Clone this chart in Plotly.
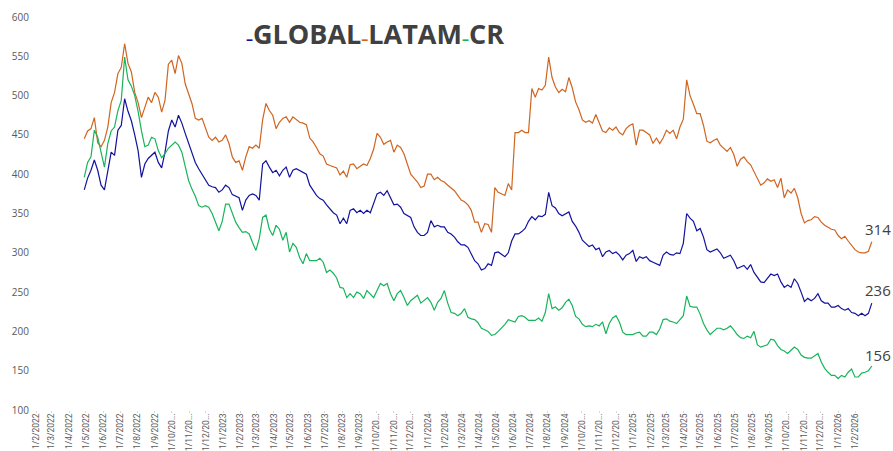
import pandas as pd
import plotly.graph_objects as go

# ---- data (one value every 6 days) ----
start_date = "2022-04-28"
step = "6D"

global_vals = [
    380, 395, 405, 418, 405, 386, 380, 405, 428, 424,
    456, 462, 496, 480, 468, 450, 430, 396, 413, 420,
    424, 428, 415, 408, 428, 455, 469, 460, 475, 465,
    452, 440, 426, 415, 407, 400, 392, 386, 384, 383,
    377, 380, 386, 383, 374, 372, 370, 354, 367, 373,
    375, 373, 367, 413, 417, 409, 402, 405, 398, 405,
    409, 396, 405, 407, 405, 402, 400, 386, 379, 373,
    369, 367, 361, 356, 351, 348, 337, 344, 337, 354,
    356, 351, 354, 350, 354, 351, 362, 375, 377, 373,
    379, 371, 361, 362, 358, 350, 348, 345, 333, 326,
    322, 322, 326, 341, 333, 335, 333, 333, 326, 324,
    320, 314, 310, 310, 307, 299, 290, 286, 278, 280,
    286, 284, 300, 301, 298, 295, 300, 315, 324, 324,
    327, 331, 340, 346, 342, 347, 346, 349, 377, 360,
    357, 350, 347, 350, 352, 340, 334, 326, 316, 312,
    308, 310, 304, 306, 295, 301, 303, 299, 301, 297,
    291, 297, 299, 303, 289, 295, 293, 295, 290, 288,
    286, 284, 297, 301, 298, 297, 300, 299, 312, 350,
    344, 340, 328, 331, 320, 304, 301, 303, 305, 300,
    293, 295, 297, 290, 280, 282, 284, 279, 285, 275,
    269, 263, 262, 268, 273, 271, 273, 263, 256, 259,
    256, 267, 261, 250, 238, 242, 239, 242, 248, 239,
    236, 236, 231, 231, 233, 229, 227, 229, 224, 223,
    220, 223, 220, 223, 236,
]

latam_vals = [
    445, 455, 458, 472, 440, 435, 443, 460, 491, 504,
    528, 536, 566, 541, 530, 504, 491, 472, 485, 498,
    491, 504, 498, 479, 494, 540, 545, 528, 551, 541,
    515, 503, 490, 471, 469, 471, 460, 447, 443, 447,
    441, 443, 450, 439, 422, 415, 417, 405, 422, 435,
    433, 437, 433, 469, 490, 481, 475, 458, 466, 471,
    473, 466, 473, 469, 466, 465, 463, 446, 441, 434,
    426, 423, 413, 411, 409, 408, 399, 404, 396, 412,
    413, 407, 410, 413, 411, 420, 432, 452, 447, 438,
    441, 443, 428, 437, 434, 426, 413, 400, 395, 390,
    383, 385, 400, 400, 393, 396, 392, 390, 386, 383,
    379, 373, 367, 365, 361, 354, 339, 339, 326, 337,
    336, 326, 383, 377, 375, 373, 388, 380, 453, 453,
    456, 453, 453, 509, 498, 509, 507, 513, 549, 523,
    511, 504, 508, 505, 523, 510, 492, 482, 469, 466,
    468, 465, 476, 466, 455, 453, 459, 456, 460, 453,
    450, 458, 462, 464, 437, 456, 456, 453, 450, 439,
    446, 439, 446, 456, 452, 456, 445, 460, 470, 520,
    500, 489, 477, 477, 462, 442, 440, 443, 445, 437,
    433, 429, 434, 425, 410, 419, 422, 416, 412, 403,
    396, 386, 389, 394, 391, 393, 383, 395, 370, 380,
    376, 382, 370, 350, 338, 341, 342, 346, 345, 339,
    335, 332, 330, 329, 322, 318, 321, 315, 309, 304,
    301, 300, 300, 302, 314,
]

cr_vals = [
    396, 415, 422, 456, 447, 426, 409, 439, 455, 460,
    481, 494, 549, 520, 512, 500, 480, 455, 435, 437,
    447, 445, 430, 421, 426, 433, 437, 441, 437, 428,
    410, 392, 381, 372, 360, 358, 360, 358, 350, 340,
    328, 340, 362, 362, 350, 339, 332, 326, 327, 324,
    313, 303, 318, 345, 348, 330, 322, 335, 330, 316,
    326, 301, 312, 307, 294, 286, 299, 290, 290, 290,
    293, 288, 275, 278, 274, 268, 256, 255, 243, 248,
    243, 250, 248, 242, 252, 248, 243, 252, 261, 258,
    261, 248, 239, 248, 252, 243, 233, 239, 243, 246,
    236, 239, 243, 237, 227, 237, 242, 252, 236, 224,
    223, 220, 223, 229, 218, 216, 215, 211, 204, 202,
    200, 195, 196, 200, 204, 209, 215, 213, 212, 219,
    220, 218, 214, 214, 214, 217, 213, 224, 248, 229,
    231, 227, 230, 237, 241, 233, 219, 216, 209, 206,
    207, 206, 209, 207, 212, 197, 210, 217, 220, 212,
    199, 196, 196, 196, 198, 199, 194, 194, 199, 199,
    196, 203, 215, 216, 213, 212, 210, 215, 220, 245,
    232, 231, 231, 222, 210, 202, 196, 200, 204, 204,
    202, 204, 207, 202, 196, 192, 191, 194, 192, 200,
    183, 180, 182, 183, 190, 189, 182, 177, 175, 172,
    176, 180, 177, 170, 167, 166, 166, 169, 172, 161,
    153, 148, 144, 144, 140, 144, 142, 148, 152, 142,
    142, 147, 148, 150, 156,
]

series_names = ["GLOBAL", "LATAM", "CR"]

# monthly tick labels (d/m/yyyy, long ones cut as in the source)
tick_months = pd.date_range("2022-02-01", "2026-02-01", freq="MS")
tick_labels = [
    (f"1/{d.month}/{d.year}" if d.month < 10 else f"1/{d.month}/20...")
    for d in tick_months
]

y_ticks = [100, 150, 200, 250, 300, 350, 400, 450, 500, 550, 600]

# ---- figure ----
dates = pd.date_range(start_date, periods=len(global_vals), freq=step)
colors = ["#12129E", "#CF6520", "#18B45B"]
all_vals = [global_vals, latam_vals, cr_vals]

fig = go.Figure()
for name, vals, col in zip(series_names, all_vals, colors):
    fig.add_trace(go.Scatter(
        x=dates, y=vals, name=name, mode="lines",
        line=dict(color=col, width=1.2), showlegend=False,
    ))

# end-value labels
for vals, ysh in zip(all_vals, [1, 1, -1]):
    fig.add_annotation(
        x=dates[-1], y=vals[-1], text=str(vals[-1]), showarrow=False,
        xanchor="center", yanchor="bottom", xshift=6, yshift=ysh,
        font=dict(family="Open Sans", size=15, color="#404040"),
    )

# legend rendered as a title-like line of text with coloured dashes
legend_text = "".join(
    f'<span style="color:{c};font-size:14px">–</span>{n}'
    for n, c in zip(series_names, colors)
)
fig.add_annotation(
    xref="paper", yref="paper", x=0.405, y=0.958,
    text=legend_text, showarrow=False, xanchor="center", yanchor="middle",
    font=dict(family="Open Sans", size=27, color="#404040", weight=700),
)

fig.update_layout(
    width=893, height=451,
    margin=dict(l=30, r=10, t=17, b=41),
    paper_bgcolor="white", plot_bgcolor="white",
    font=dict(family="Open Sans", color="#595959"),
    xaxis=dict(
        type="date",
        range=["2022-01-21 07:00", "2026-03-22"],
        tickmode="array", tickvals=tick_months, ticktext=tick_labels,
        tickangle=-90, tickfont=dict(family="Roboto", size=8.5, color="#595959"),
        ticks="outside", ticklen=2, tickcolor="#D9D9D9",
        ticklabelstandoff=-3,
        showgrid=False, showline=False, zeroline=False, automargin=False,
    ),
    yaxis=dict(
        range=[100, 600], tickmode="array", tickvals=y_ticks,
        tickfont=dict(size=10, color="#595959"),
        showgrid=False, showline=False, zeroline=False, ticks="",
        automargin=False,
    ),
)

# remove the default 8 px page margin so the figure fills the window
fig.write_html(
    "out.html",
    config={"displayModeBar": False},
    post_script="document.body.style.margin='0';document.body.style.overflow='hidden';",
)
